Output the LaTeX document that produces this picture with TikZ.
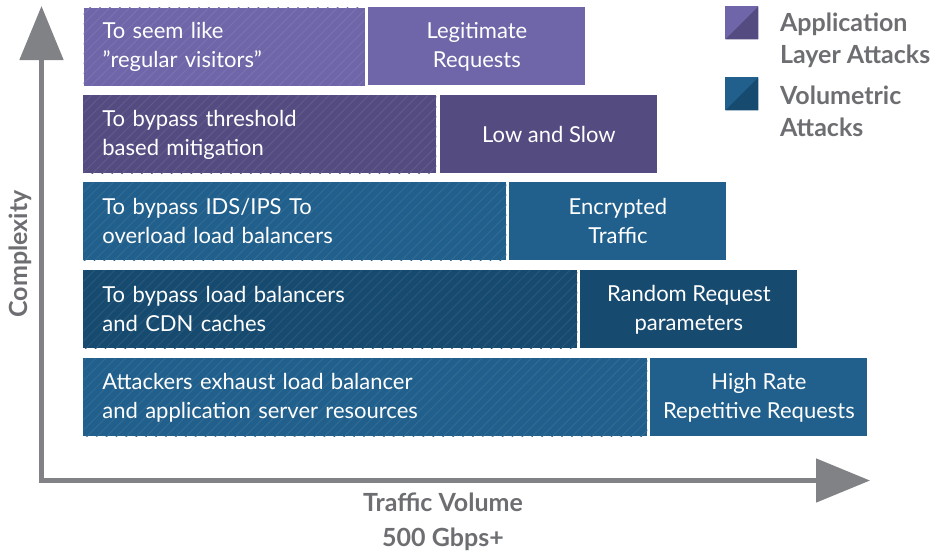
\documentclass[tikz,border=0pt]{standalone}
\usepackage{fontspec}
\setmainfont{Lato}
\usepackage{tikz}
\usetikzlibrary{calc,positioning}
\usetikzlibrary{arrows.meta}
\usetikzlibrary{patterns.meta}
\definecolor{lpurple}{HTML}{6E66A8}
\definecolor{dpurple}{HTML}{544C81}
\definecolor{mblue}{HTML}{21608C}
\definecolor{dblue}{HTML}{174A6F}
\definecolor{txtgray}{HTML}{6D6E71}
\definecolor{axgray}{HTML}{808285}
\tikzset{>={Triangle[length=27pt,width=21.5pt]}}

\begin{document}
\begin{tikzpicture}[x=0.5pt,y=-0.5pt]
      \tikzstyle{lbox} = [anchor=north west, minimum height=39pt, inner xsep=9.5pt, inner ysep=0pt, align=left, text=white, font=\fontsize{11}{14.5}\selectfont, pattern={Lines[angle=45,distance=3.5pt,line width=0.5pt]}]
      \tikzstyle{rbox} = [anchor=north west, minimum width=108.5pt, minimum height=39pt, inner sep=0pt, align=center, text=white, font=\fontsize{11}{14.5}\selectfont]
      \tikzstyle{ltext} = [anchor=west, align=left, text=txtgray, font=\bfseries\fontsize{12.5}{16}\selectfont]
      \tikzstyle{lsq} = [anchor=north west, minimum size=16.5pt, inner sep=0pt]
      \tikzstyle{axis} = [draw=axgray, line width=2.5pt, line join=miter]

      \useasboundingbox (0,0) rectangle (936,553);

      % axes
      \coordinate (ytop) at (41.5,6);
      \coordinate (xend) at (870,480.5);
      \draw[axis, <->] (ytop) |- (xend);
      \node[text=txtgray, font=\bfseries\fontsize{12.5}{16}\selectfont, rotate=90] (ylab) at (20,254) {Complexity};
      \node[text=txtgray, font=\bfseries\fontsize{12.5}{17.5}\selectfont, align=center] (xlab) at (443,522) {Traffic Volume\\500 Gbps+};

      % level 1 (top)
      \node[lbox, text width=121.5pt, preaction={fill=lpurple}, pattern color=lpurple!92!white] (l1) at (83,7) {To seem like\\”regular visitors”};
      \node[rbox, fill=lpurple] (r1) at (368,7) {Legitimate\\Requests};
      % level 2
      \node[lbox, text width=157.5pt, preaction={fill=dpurple}, pattern color=dpurple!92!white] (l2) at (83,95) {To bypass threshold\\based mitigation};
      \node[rbox, fill=dpurple] (r2) at (440,95) {Low and Slow};
      % level 3
      \node[lbox, text width=192.5pt, preaction={fill=mblue}, pattern color=mblue!93!white] (l3) at (83,182) {To bypass IDS/IPS To\\overload load balancers};
      \node[rbox, fill=mblue] (r3) at (509,182) {Encrypted\\Traffic};
      % level 4
      \node[lbox, text width=228pt, preaction={fill=dblue}, pattern color=dblue!93!white] (l4) at (83,270) {To bypass load balancers\\and CDN caches};
      \node[rbox, fill=dblue] (r4) at (580,270) {Random Request\\parameters};
      % level 5 (bottom)
      \node[lbox, text width=263pt, preaction={fill=mblue}, pattern color=mblue!93!white] (l5) at (83,358) {Attackers exhaust load balancer\\and application server resources};
      \node[rbox, fill=mblue] (r5) at (650,358) {High Rate\\Repetitive Requests};

      % legend
      \node[lsq, fill=lpurple, path picture={\fill[dpurple] (path picture bounding box.north east) -- (path picture bounding box.south east) -- (path picture bounding box.south west) -- cycle;}] (sq1) at (725,6) {};
      \node[ltext] (t1) at (773,40) {Application\\Layer Attacks};
      \node[lsq, fill=mblue, path picture={\fill[dblue] (path picture bounding box.north east) -- (path picture bounding box.south east) -- (path picture bounding box.south west) -- cycle;}] (sq2) at (725,77) {};
      \node[ltext] (t2) at (773,111) {Volumetric\\Attacks};
\end{tikzpicture}
\end{document}
